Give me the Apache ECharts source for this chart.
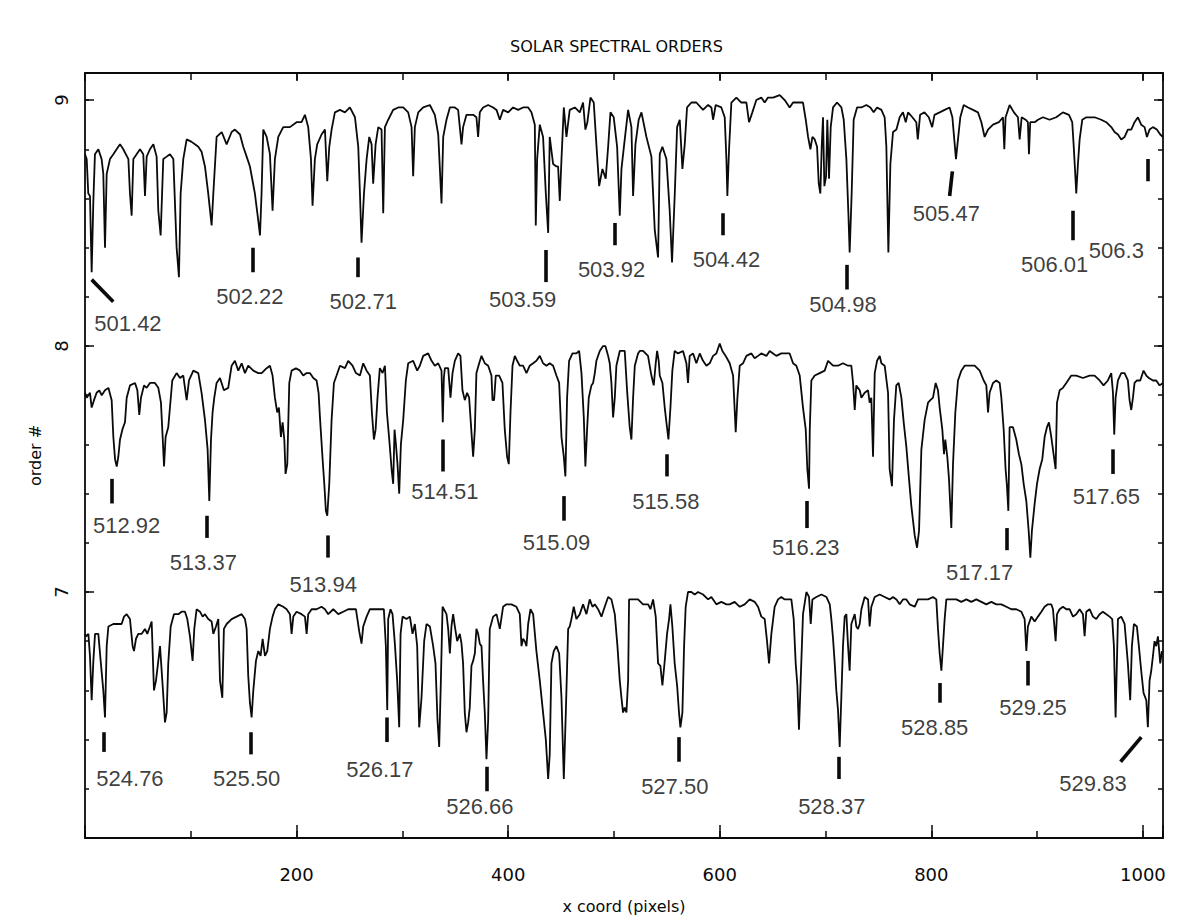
<!DOCTYPE html>
<html>
<head>
<meta charset="utf-8">
<script src="https://cdn.jsdelivr.net/npm/echarts/dist/echarts.min.js"></script>
<style>
html, body { margin: 0; padding: 0; background: #ffffff; }
#chart { width: 1179px; height: 921px; }
</style>
</head>
<body>
<div id="chart"></div>
<script>
// Spectral orders: [x pixel, order# + normalised flux offset]
const order9 = [
  [0, 8.78], [1.6, 8.76], [3.1, 8.62], [4.7, 8.61], [6.3, 8.30], [7.9, 8.59], [9.4, 8.78], [12.6, 8.80], [15.7, 8.76], [17.3, 8.70],
  [18.9, 8.40], [20.5, 8.70], [23.6, 8.76], [26.8, 8.78], [29.9, 8.80], [33.1, 8.82], [36.2, 8.80], [41, 8.76], [42.5, 8.62], [44.1, 8.53],
  [45.7, 8.76], [48.8, 8.78], [52, 8.80], [55.1, 8.78], [56.7, 8.61], [58.3, 8.77], [61.4, 8.80], [64.6, 8.82], [67.7, 8.77], [69.3, 8.55],
  [71.5, 8.45], [74, 8.76], [77.2, 8.77], [80.3, 8.78], [83.5, 8.76], [86.6, 8.40], [88.8, 8.28], [90.4, 8.62], [92.9, 8.76], [96.1, 8.84],
  [100.8, 8.83], [103.9, 8.82], [107.1, 8.81], [110.2, 8.79], [113.4, 8.73], [116.5, 8.62], [119.7, 8.49], [121.3, 8.62], [124.4, 8.85], [129.2, 8.87],
  [133.9, 8.82], [138.6, 8.87], [141.7, 8.88], [146.5, 8.86], [149.6, 8.81], [152.8, 8.77], [155.9, 8.73], [160.6, 8.62], [163.8, 8.51], [165.4, 8.45],
  [166.9, 8.62], [168.5, 8.88], [171.7, 8.85], [174.8, 8.78], [177.3, 8.55], [179.5, 8.76], [182.7, 8.85], [187.4, 8.89], [193.7, 8.89], [200, 8.91],
  [204.7, 8.91], [207.9, 8.94], [211, 8.89], [213.6, 8.76], [215.1, 8.57], [217.3, 8.76], [219.5, 8.82], [223.6, 8.86], [226.8, 8.88], [229, 8.67],
  [230.9, 8.81], [233.1, 8.88], [236.2, 8.95], [241, 8.96], [245.7, 8.95], [250.4, 8.97], [255.2, 8.93], [258.3, 8.81], [259.9, 8.62], [261.4, 8.42],
  [263.7, 8.62], [266.2, 8.76], [268.7, 8.85], [270.9, 8.82], [272.4, 8.66], [274.7, 8.82], [277.2, 8.89], [280.3, 8.88], [281.9, 8.54], [283.5, 8.89],
  [286.6, 8.92], [291.3, 8.96], [296.1, 8.97], [300.8, 8.97], [305.5, 8.95], [308.7, 8.89], [310.2, 8.69], [311.8, 8.89], [315, 8.95], [319.7, 8.97],
  [326, 8.98], [330.7, 8.94], [333.9, 8.86], [337, 8.58], [338.6, 8.85], [341.7, 8.92],
  [344.9, 8.97], [349.6, 8.97], [352.7, 8.96], [354.3, 8.89], [355.9, 8.82], [357.4, 8.89], [360.6, 8.94], [366.9, 8.94], [370.0, 8.93], [371.6, 8.85],
  [373.2, 8.95], [376.3, 8.97], [381.1, 8.98], [385.8, 8.97], [389, 8.96], [392.1, 8.92], [395.2, 8.96], [400, 8.95], [404.7, 8.97], [409.4, 8.96],
  [414.1, 8.97], [418.9, 8.97], [422, 8.95], [425.2, 8.90], [426.1, 8.49], [427.4, 8.76], [429.9, 8.90], [433, 8.85], [435.6, 8.62], [437.8, 8.46],
  [439.3, 8.85], [442.5, 8.74], [445.6, 8.73], [447.2, 8.73], [448.8, 8.59], [450.4, 8.76], [452.6, 8.97], [455.1, 8.85], [458.2, 8.96], [463, 8.97],
  [467.7, 8.95], [470.8, 8.99], [473, 8.88], [474.9, 8.91], [477.8, 9.01], [480.9, 8.99], [483.4, 8.82], [486, 8.65], [489.1, 8.72], [492.2, 8.68],
  [494.5, 8.81], [496.7, 8.95], [499.8, 8.93], [503, 8.81], [505.5, 8.53], [507.1, 8.72], [510.2, 8.84], [513.4, 8.96], [516.5, 8.89], [518.1, 8.61],
  [520.3, 8.82], [523.4, 8.92], [526, 8.95], [530.7, 8.85], [535.4, 8.77], [538.6, 8.47], [541.7, 8.36], [543.3, 8.78], [545.8, 8.81], [549.6, 8.76],
  [552.7, 8.55], [554.9, 8.34], [557.5, 8.62], [559.7, 8.89], [562.2, 8.92], [564.7, 8.72], [566.9, 8.82], [569.1, 8.97], [573.2, 8.99], [577.9, 8.99],
  [584.2, 8.96], [589, 8.98], [592.1, 8.97], [593.7, 8.92], [596.2, 8.98], [601.5, 8.97], [604.7, 8.93], [606.3, 8.76], [607.2, 8.61], [608.8, 8.80],
  [611, 8.99], [615.7, 9.01], [620.4, 8.99], [625.2, 8.99], [627.7, 8.91], [630.8, 8.95], [634.6, 9.00], [639.3, 9.01], [642.5, 8.99], [645.6, 9.01],
  [650.4, 9.01], [656.7, 9.02], [661.4, 9.00], [666.1, 8.97], [669.3, 8.99],
  [675.6, 8.99], [678.7, 8.99], [681.3, 8.92], [683.5, 8.85], [685.7, 8.80], [687.6, 8.85], [689.8, 8.84], [692, 8.81], [693.6, 8.66], [695.1, 8.62],
  [696.4, 8.81], [697.6, 8.93], [698.9, 8.65], [700.5, 8.69], [701.7, 8.92], [703.3, 8.68], [704.9, 8.89], [707.1, 8.97], [710.9, 8.99], [715, 8.97],
  [717.2, 8.92], [719.7, 8.76], [721.6, 8.54], [722.8, 8.38], [724.7, 8.62], [726.6, 8.92], [729.8, 8.97], [733.9, 8.97], [738.6, 8.98], [742.4, 8.97],
  [745.5, 8.95], [748.7, 8.97], [752.8, 8.96], [755.9, 8.93], [757.5, 8.81], [759.4, 8.38], [761.3, 8.74], [763.8, 8.87], [767, 8.88], [770.1, 8.93],
  [773.2, 8.95], [775.8, 8.91], [778, 8.95], [782.1, 8.93], [785.8, 8.91], [787.2, 8.84], [789.4, 8.94], [793.5, 8.95], [797.6, 8.93], [800.8, 8.89],
  [803, 8.94], [807.9, 8.95], [812.6, 8.96], [817.3, 8.97], [819.9, 8.93], [821.7, 8.84], [823.3, 8.76], [825.2, 8.84], [827.4, 8.93], [830.6, 8.98],
  [834.7, 8.97], [839.4, 8.96], [844.1, 8.95], [847.3, 8.91], [850.4, 8.85], [853.6, 8.88], [858.3, 8.90], [863.9, 8.91], [867.7, 8.93], [869, 8.80],
  [870.2, 8.93], [874, 8.98], [878.1, 8.95], [881.9, 8.93], [883.5, 8.84], [885.4, 8.93], [889.1, 8.92], [891.3, 8.91], [892.3, 8.78], [893.5, 8.91],
  [897.7, 8.91], [900.8, 8.92], [905.5, 8.93], [911.8, 8.92], [918.1, 8.93], [924.4, 8.95], [930.1, 8.94], [933.2, 8.91], [934.5, 8.82], [935.8, 8.72],
  [937, 8.62], [938.6, 8.74], [940.2, 8.84], [942.7, 8.92], [946.5, 8.93], [954.4, 8.93], [960.6, 8.92], [965.4, 8.91], [970.1, 8.89], [973.2, 8.87],
  [976.4, 8.86], [979.5, 8.84], [982.7, 8.85], [985.8, 8.88], [989, 8.88], [992.1, 8.91], [995.3, 8.93], [998.4, 8.90], [1001.6, 8.89], [1003.8, 8.85],
  [1006.3, 8.88], [1009.5, 8.89], [1013.2, 8.88], [1016.4, 8.86], [1019, 8.85]
];

const order8 = [
  [0, 7.81], [1.6, 7.79], [4.7, 7.81], [6.3, 7.75], [8.5, 7.78], [11, 7.81], [13.5, 7.82], [15.8, 7.80], [18.9, 7.82], [22.1, 7.83],
  [25.2, 7.78], [26.8, 7.63], [28.4, 7.54], [30, 7.51], [31.5, 7.55], [33.1, 7.62], [35.3, 7.66], [37.8, 7.69], [39.4, 7.79], [42.5, 7.84],
  [47.3, 7.85], [49.5, 7.82], [51.3, 7.72], [52.9, 7.79], [55.8, 7.84], [58.3, 7.83], [61.4, 7.85], [66.1, 7.85], [69.3, 7.83], [71.8, 7.77],
  [73.4, 7.63], [74.7, 7.51], [76.2, 7.63], [78.7, 7.67], [80.3, 7.75], [82.5, 7.86], [86.6, 7.89], [89.8, 7.87], [92.9, 7.88], [96.1, 7.78],
  [98.3, 7.86], [102.4, 7.90], [107.1, 7.89], [110.2, 7.81], [113.4, 7.70], [115.9, 7.58], [117.5, 7.37], [119.1, 7.62], [120.6, 7.73], [122.2, 7.79],
  [124.4, 7.85], [127.6, 7.87], [131.3, 7.82], [135.4, 7.83], [138.6, 7.92], [141.7, 7.94], [144.9, 7.90], [148.1, 7.93], [151.2, 7.89], [154.3, 7.92],
  [159.1, 7.90], [163.8, 7.89], [167, 7.89], [171.7, 7.91], [174.8, 7.92], [177.3, 7.88], [179.5, 7.79], [181.7, 7.73], [183.3, 7.75], [185.2, 7.63],
  [186.8, 7.69], [188.4, 7.62], [189.6, 7.48], [191.2, 7.52], [193.1, 7.85], [195.3, 7.90], [199.4, 7.91], [203.2, 7.90], [206.3, 7.88], [209.5, 7.89],
  [212.6, 7.89], [215.8, 7.87], [218.9, 7.86], [220.8, 7.81], [222.1, 7.71], [224.6, 7.54], [226.2, 7.44], [227.7, 7.33], [229, 7.31], [230.9, 7.44],
  [233.1, 7.70], [235.3, 7.85], [237.8, 7.88], [241, 7.92], [245.7, 7.91], [248.8, 7.94], [252.9, 7.92], [256.1, 7.89], [259.9, 7.88], [263, 7.93],
  [266.2, 7.90], [269.3, 7.88], [271.2, 7.73], [273.1, 7.62], [274.7, 7.66], [276.5, 7.79], [278.7, 7.91], [281.3, 7.89], [283.5, 7.92], [285.4, 7.73],
  [287.6, 7.62], [289.8, 7.50], [291.3, 7.44], [292.6, 7.66], [293.9, 7.60], [295.4, 7.52], [297, 7.40], [298.6, 7.60], [300.8, 7.70], [303.3, 7.86],
  [305.5, 7.93], [310.2, 7.94], [314, 7.90], [316.5, 7.92], [319.7, 7.96], [324.4, 7.97], [327.6, 7.94], [330.7, 7.92], [333.9, 7.93], [337, 7.90],
  [338.2, 7.69], [339.2, 7.87], [340.2, 7.91], [343.3, 7.91],
  [345.5, 7.79], [347.4, 7.89], [349.6, 7.94], [352.7, 7.97], [354.9, 7.96], [356.8, 7.82], [359, 7.78], [361.2, 7.81], [363.1, 7.79], [365.3, 7.65],
  [366.9, 7.55], [368.5, 7.66], [370, 7.89], [372.6, 7.93], [374.8, 7.96], [377.9, 7.93], [381.1, 7.92], [384.2, 7.88], [385.2, 7.78], [386.7, 7.78],
  [388.3, 7.88], [391.5, 7.88], [394.6, 7.85], [396.8, 7.66], [399, 7.55], [400.6, 7.52], [402.2, 7.73], [404.1, 7.92], [406.3, 7.96], [408.5, 7.94],
  [411, 7.92], [414.1, 7.92], [417.3, 7.89], [420.4, 7.92], [423.6, 7.93], [426.7, 7.94], [429.9, 7.96], [433, 7.93], [436.2, 7.92], [439.3, 7.93],
  [442.5, 7.92], [445.6, 7.88], [448.2, 7.85], [450.4, 7.63], [452.6, 7.55], [454.1, 7.47], [455.7, 7.79], [457.6, 7.94], [460.8, 7.97], [464.5, 7.97],
  [467.1, 7.98], [469.3, 7.89], [471.5, 7.71], [473.0, 7.51], [474.6, 7.66], [476.2, 7.79], [478.7, 7.84], [480.3, 7.85], [481.9, 7.89], [483.4, 7.94],
  [486.6, 7.98], [489.7, 8.00], [491.9, 8.00], [494.5, 7.96], [496, 7.93], [497.6, 7.85], [499.2, 7.71], [500.8, 7.79], [502.3, 7.92], [505.5, 7.98],
  [510.2, 7.98], [512.4, 7.82], [514.9, 7.67], [516.5, 7.62], [518.1, 7.79], [519.7, 7.92], [522.8, 7.97], [524.4, 7.98], [527.5, 7.98], [532.2, 7.96],
  [535.4, 7.88], [537.6, 7.84], [539.5, 7.93], [540.8, 7.98], [542.3, 7.94], [543.3, 7.88], [545.8, 7.85], [548, 7.75], [549.6, 7.69], [551.5, 7.62],
  [553.4, 7.75], [555.2, 7.90], [557.4, 7.98], [560.6, 7.97], [565.3, 7.98], [568.5, 7.93], [570, 7.85], [571.6, 7.96], [574.8, 7.97], [577.9, 7.93],
  [581.1, 7.97], [584.2, 7.94], [587.4, 7.92], [590.5, 7.93], [593.7, 7.96], [596.8, 7.97], [600, 8.01], [602.5, 7.98], [605.6, 7.96], [609.4, 7.93],
  [612.6, 7.88], [615.1, 7.65], [616.7, 7.79], [618.9, 7.92], [622, 7.93], [625.2, 7.96], [629.9, 7.97], [633, 7.95], [636.2, 7.96], [639.3, 7.97],
  [644.1, 7.96], [647.2, 7.98], [650.4, 7.97], [653.5, 7.96], [658.2, 7.97], [663, 7.97], [666.1, 7.97], [669.3, 7.93], [672.4, 7.92], [675.6, 7.88],
  [678.7, 7.75], [681.3, 7.66], [682.8, 7.50], [684.4, 7.42],
  [685.1, 7.66], [686.6, 7.86], [689.8, 7.88], [694.5, 7.89], [699.2, 7.90], [702.4, 7.94], [707.1, 7.92], [711.8, 7.92], [716.5, 7.93], [721.3, 7.92],
  [724.4, 7.92], [726, 7.85], [727.6, 7.74], [729.1, 7.84], [732.3, 7.82], [733.9, 7.79], [737, 7.81], [740.2, 7.82], [741.7, 7.77], [743.3, 7.79],
  [744.9, 7.55], [746.5, 7.89], [748.7, 7.94], [751.2, 7.96], [752.8, 7.93], [755.9, 7.92], [759.1, 7.81], [760.6, 7.50], [762.8, 7.43], [764.7, 7.70],
  [766.9, 7.84], [769.1, 7.85], [771.7, 7.79], [773.9, 7.69], [776.4, 7.59], [778.9, 7.46], [781.1, 7.35], [784.3, 7.23], [786.5, 7.18], [788.4, 7.25],
  [790.6, 7.58], [793.7, 7.70], [796.9, 7.77], [799.1, 7.78], [801.6, 7.79], [804.1, 7.85], [806.3, 7.82], [807.9, 7.75], [810.4, 7.66], [812, 7.56],
  [813.2, 7.62], [815.1, 7.55], [816.7, 7.46], [818.9, 7.26], [820.5, 7.52], [822.7, 7.73], [825.2, 7.86], [828.4, 7.90], [831.5, 7.92], [836.2, 7.92],
  [841, 7.92], [845.7, 7.90], [849.5, 7.86], [852, 7.84], [853.6, 7.73], [855.1, 7.81], [858.3, 7.85], [861.4, 7.86], [864.6, 7.85], [866.2, 7.79],
  [868.4, 7.66], [870.2, 7.50], [871.5, 7.43], [872.8, 7.33], [874, 7.67], [877.2, 7.67], [880.3, 7.62], [882.8, 7.56], [885.1, 7.52], [887.3, 7.44],
  [889.8, 7.37], [892, 7.25], [893.6, 7.14], [895.1, 7.25], [897.7, 7.36], [899.9, 7.44], [902.4, 7.50], [904.9, 7.54], [907.1, 7.63], [909.3, 7.67],
  [911.2, 7.69], [913.4, 7.63], [915.6, 7.56], [917.5, 7.50], [918.8, 7.77], [921.3, 7.82], [924.4, 7.83], [927.6, 7.85], [932.3, 7.88], [937, 7.88],
  [943.3, 7.87], [949.6, 7.88], [954.3, 7.88], [959.1, 7.86], [962.8, 7.84], [966.9, 7.86], [970.1, 7.89], [971.7, 7.81], [972.9, 7.64], [974.2, 7.79],
  [976.4, 7.86], [979.5, 7.89], [982.7, 7.89], [985.8, 7.86], [987.4, 7.78], [989, 7.74], [990.6, 7.79], [992.1, 7.85], [994.4, 7.86], [997.5, 7.86],
  [1000.6, 7.90], [1003.2, 7.88], [1005.7, 7.87], [1009.5, 7.86], [1012.6, 7.86], [1015.8, 7.84], [1019, 7.85]
];

const order7 = [
  [0, 6.83], [1, 6.82], [3.2, 6.83], [4.7, 6.74], [6.3, 6.56], [7.9, 6.72], [9.5, 6.83], [12.6, 6.83], [14.8, 6.72], [17.3, 6.60],
  [18.9, 6.49], [20.5, 6.78], [22.1, 6.86], [26.8, 6.87], [31.5, 6.87], [34.6, 6.87], [36.9, 6.90], [39.4, 6.91], [42.5, 6.89], [45, 6.78],
  [46.3, 6.76], [48.2, 6.81], [50.4, 6.83], [53.6, 6.83], [56.7, 6.85], [58.9, 6.83], [61.4, 6.86], [63, 6.88], [65.2, 6.60], [67.1, 6.64],
  [69.3, 6.72], [70.9, 6.78], [73.4, 6.62], [75.6, 6.47], [77.2, 6.51], [78.7, 6.71], [81, 6.86], [84.1, 6.91], [88.2, 6.91], [91.3, 6.92],
  [94.5, 6.92], [96.7, 6.89], [99.2, 6.82], [101.7, 6.72], [103.3, 6.85], [105.5, 6.93], [108.7, 6.92], [111.2, 6.90], [113.4, 6.91], [116.5, 6.89],
  [119.7, 6.88], [121.3, 6.83], [123.8, 6.86], [126, 6.89], [127.6, 6.64], [129.8, 6.57], [131.3, 6.85], [133.9, 6.87], [138.6, 6.89], [143.3, 6.90],
  [148.1, 6.91], [151.2, 6.89], [152.8, 6.85], [154.3, 6.66], [155.9, 6.55], [157.5, 6.49], [159.1, 6.60], [161.6, 6.72], [163.8, 6.76], [166, 6.74],
  [167.9, 6.81], [170.1, 6.74], [172.3, 6.76], [174.8, 6.85], [177.3, 6.90], [179.5, 6.93], [182.7, 6.95], [187.4, 6.94], [190.6, 6.93], [193.7, 6.91],
  [195.3, 6.83], [196.9, 6.90], [200, 6.92], [204.7, 6.91], [207.9, 6.90], [209.5, 6.83], [211, 6.91], [214.2, 6.93], [218.9, 6.93], [223.6, 6.94],
  [226.8, 6.93], [229.9, 6.91], [234.7, 6.93], [239.4, 6.91], [244.1, 6.92], [248.8, 6.93], [252.9, 6.93], [256.1, 6.93], [259.2, 6.84], [261.4, 6.79],
  [263, 6.86], [266.2, 6.90], [269.3, 6.93], [274, 6.93], [278.7, 6.93], [282.5, 6.93], [284.4, 6.78], [285.7, 6.52], [286.6, 6.89], [288.8, 6.93],
  [290.7, 6.91], [292.9, 6.79], [295.1, 6.64], [297, 6.45], [298.3, 6.83], [300.2, 6.90], [303.9, 6.89], [307.1, 6.90], [309.6, 6.83], [311.8, 6.87],
  [314, 6.78], [315.9, 6.45], [318.1, 6.57], [320.6, 6.80], [322.8, 6.87], [326, 6.86], [329.1, 6.78], [331.3, 6.71], [333.2, 6.48], [334.8, 6.37],
  [336.4, 6.64], [338, 6.94],
  [341.7, 6.91], [343.3, 6.85], [344.9, 6.75], [346.4, 6.86], [348, 6.91], [349.6, 6.86], [351.8, 6.80], [354.3, 6.83], [355.9, 6.79], [357.4, 6.71],
  [359, 6.51], [360.6, 6.43], [362.2, 6.47], [363.7, 6.53], [365.3, 6.70], [366.9, 6.72], [368.5, 6.75], [370, 6.85], [371.6, 6.83], [373.2, 6.79],
  [374.8, 6.78], [376.3, 6.64], [377.9, 6.51], [379.5, 6.32], [381.1, 6.48], [382.6, 6.85], [385.8, 6.90], [389, 6.91], [392.1, 6.85], [395.2, 6.94],
  [398.4, 6.95], [403.1, 6.95], [407.8, 6.94], [411, 6.91], [412.6, 6.78], [414.1, 6.81], [415.7, 6.80], [417.3, 6.78], [418.9, 6.87], [421.1, 6.93],
  [423.6, 6.91], [426.7, 6.76], [429.9, 6.64], [433, 6.51], [435.6, 6.40], [437.8, 6.24], [439.3, 6.34], [440.9, 6.71], [443.1, 6.76], [445.6, 6.78],
  [448.2, 6.75], [450.4, 6.57], [452.6, 6.24], [454.5, 6.51], [456.7, 6.85], [458.2, 6.86], [459.8, 6.89], [462, 6.94], [464.5, 6.89], [467.7, 6.91],
  [470.8, 6.95], [474, 6.91], [477.1, 6.97], [479.7, 6.94], [481.9, 6.95], [485, 6.93], [488.2, 6.90], [491.3, 6.94], [494.5, 6.98], [497.6, 6.97],
  [500.8, 6.91], [503.3, 6.78], [505.5, 6.64], [507.1, 6.57], [508.6, 6.51], [510.2, 6.53], [511.8, 6.51], [513.4, 6.64], [514.3, 6.97], [518.1, 6.97],
  [522.8, 6.97], [527.5, 6.95], [532.3, 6.95], [534.5, 6.93], [537, 6.97], [539.5, 6.90], [541.7, 6.71], [543.9, 6.70], [545.8, 6.62], [548, 6.72],
  [550.2, 6.83], [552.1, 6.89], [553.4, 6.95], [555.2, 6.86], [557.4, 6.71], [559.7, 6.62], [561.5, 6.51], [562.8, 6.45], [564.7, 6.51], [566.3, 6.78],
  [567.8, 6.94], [570, 7.00], [573.2, 7.00], [576.3, 6.99], [579.5, 7.00], [584.2, 6.99], [589, 6.97], [592.1, 6.98], [596.8, 6.95], [601.5, 6.96],
  [606.3, 6.95], [609.4, 6.95], [614.1, 6.96], [618.9, 6.94], [623.6, 6.95], [628.3, 6.97], [633, 6.96], [636.2, 6.94], [639.3, 6.90], [642.5, 6.89],
  [644.7, 6.80], [646.6, 6.71], [648.8, 6.83], [651.9, 6.94], [655.1, 6.97], [658.2, 6.98], [661.4, 6.97], [664.5, 6.97], [667.7, 6.97], [669.9, 6.89],
  [671.8, 6.71], [673.4, 6.62], [674.9, 6.44], [676.5, 6.64],
  [678.7, 6.91], [681.9, 7.00], [684.4, 6.98], [686, 6.87], [687.6, 6.97], [691.3, 6.98], [696.1, 6.99], [700.8, 6.98], [704, 6.95], [705.5, 6.89],
  [707.1, 6.81], [708.7, 6.71], [710.2, 6.60], [711.8, 6.52], [713.4, 6.37], [715, 6.58], [716.5, 6.78], [718.1, 6.90], [719.7, 6.91], [721.3, 6.78],
  [722.8, 6.68], [724.4, 6.87], [726, 6.89], [727.6, 6.91], [729.1, 6.86], [730.7, 6.85], [732.3, 6.87], [733.9, 6.93], [737, 6.98], [740.2, 6.97],
  [741.7, 6.86], [743.3, 6.94], [746.5, 6.98], [751.2, 6.99], [755.9, 6.98], [760.6, 6.97], [763.8, 6.98], [767, 6.97], [770.1, 6.95], [773.2, 6.97],
  [776.4, 6.97], [779.5, 6.95], [784.3, 6.94], [787.4, 6.97], [792.1, 6.97], [796.9, 6.97], [801.6, 6.98], [804.7, 6.97], [806.3, 6.85], [807.9, 6.75],
  [809.5, 6.68], [811, 6.78], [812.6, 6.89], [814.2, 6.97], [818.9, 6.97], [823.6, 6.97], [828.4, 6.96], [833.1, 6.97], [837.8, 6.96], [842.5, 6.97],
  [847.3, 6.96], [852, 6.95], [856.7, 6.96], [861.4, 6.95], [866.2, 6.95], [870.9, 6.94], [875.6, 6.93], [880.3, 6.93], [885.1, 6.92], [888.2, 6.89],
  [889.8, 6.76], [891.3, 6.86], [894.5, 6.90], [897.7, 6.88], [900.8, 6.90], [904, 6.92], [907.1, 6.94], [910.2, 6.95], [913.4, 6.95], [915, 6.93],
  [917.5, 6.80], [918.8, 6.91], [921.3, 6.93], [924.4, 6.94], [927.6, 6.93], [930.7, 6.93], [933.9, 6.90], [937, 6.91], [940.2, 6.93], [943.3, 6.91],
  [944.9, 6.82], [946.5, 6.92], [949.6, 6.93], [952.8, 6.90], [955.9, 6.89], [959.1, 6.91], [962.2, 6.92], [965.4, 6.91], [968.5, 6.90], [971, 6.89],
  [972.6, 6.78], [974.2, 6.49], [975.4, 6.71], [976.4, 6.89], [979.5, 6.90], [982.7, 6.87], [985.8, 6.71], [988, 6.56], [989.6, 6.78], [991.5, 6.87],
  [994.3, 6.86], [996.2, 6.78], [998.4, 6.68], [1000.6, 6.59], [1003.2, 6.56], [1004.7, 6.45], [1006.3, 6.64], [1007.9, 6.68], [1009.5, 6.74], [1011, 6.80],
  [1012.6, 6.78], [1014.2, 6.82], [1016.4, 6.71], [1018, 6.76]
];

// Identified lines (wavelength, nm)
const lineNames = [
  '501.42', '502.22', '502.71', '503.59', '503.92', '504.42', '504.98', '505.47', '506.01', '506.3',
  '512.92', '513.37', '513.94', '514.51', '515.09', '515.58', '516.23', '517.17', '517.65',
  '524.76', '525.50', '526.17', '526.66', '527.50', '528.37', '528.85', '529.25', '529.83'
];
// Marker strokes under each line: [x top, y top, x bottom, y bottom]
const lineMarkers = [
  [6.3, 8.27, 26.7, 8.18], [159.0, 8.40, 159.0, 8.30], [258.2, 8.36, 258.2, 8.28], [435.6, 8.39, 435.6, 8.26], [500.8, 8.50, 500.8, 8.41],
  [602.6, 8.54, 602.6, 8.45], [719.7, 8.33, 719.7, 8.23], [819.9, 8.71, 817.3, 8.61], [933.3, 8.55, 933.3, 8.43], [1004.2, 8.76, 1004.2, 8.67],
  [25.2, 7.46, 25.2, 7.36], [115.0, 7.31, 115.0, 7.22], [229.0, 7.23, 229.0, 7.14], [338.0, 7.62, 338.0, 7.49], [452.6, 7.39, 452.6, 7.29],
  [549.7, 7.56, 549.7, 7.47], [682.5, 7.37, 682.5, 7.26], [871.5, 7.26, 871.5, 7.17], [971.7, 7.58, 971.7, 7.48],
  [18.0, 6.43, 18.0, 6.35], [156.9, 6.43, 156.9, 6.34], [285.6, 6.49, 285.6, 6.39], [379.6, 6.29, 379.6, 6.19], [561.6, 6.41, 561.6, 6.31],
  [712.7, 6.33, 712.7, 6.24], [807.9, 6.63, 807.9, 6.55], [891.3, 6.72, 891.3, 6.62], [998.5, 6.41, 978.9, 6.31]
];
// Text anchor (centre) of each wavelength tag
const lineTags = [
  [40.6, 8.09], [155.9, 8.20], [263.0, 8.18], [413.6, 8.19], [497.7, 8.31], [606.4, 8.35], [716.5, 8.17], [814.2, 8.54], [916.6, 8.33], [974.9, 8.39],
  [39.4, 7.27], [111.8, 7.12], [225.2, 7.03], [340.2, 7.41], [445.7, 7.20], [549.0, 7.37], [681.3, 7.18], [845.7, 7.08], [965.4, 7.39],
  [42.5, 6.24], [152.8, 6.24], [278.7, 6.28], [373.2, 6.13], [557.5, 6.21], [705.9, 6.13], [803.2, 6.45], [896.1, 6.53], [952.8, 6.22]
];

const X_MIN = 0, X_MAX = 1019, Y_MIN = 6, Y_MAX = 9.11;
const INK = '#0a0a0a';
const axisFont = 'DejaVu Sans';

const chart = echarts.init(document.getElementById('chart'), null, { renderer: 'svg' });

function xAxisDef(position, interval, tickLen, withLine, withLabels) {
  return {
    type: 'value', position: position, min: X_MIN, max: X_MAX, interval: interval,
    axisLine: { show: withLine, onZero: false, lineStyle: { color: INK, width: 1.8 } },
    axisTick: { show: true, inside: true, length: tickLen, lineStyle: { color: INK, width: 1.5 } },
    axisLabel: withLabels ? {
      show: true, margin: 27, color: INK, fontSize: 18, fontFamily: axisFont,
      formatter: v => (v > 0 && v % 200 === 0) ? String(v) : ''
    } : { show: false },
    splitLine: { show: false }
  };
}
function yAxisDef(position, interval, tickLen, withLine, withLabels) {
  return {
    type: 'value', position: position, min: Y_MIN, max: Y_MAX, interval: interval,
    axisLine: { show: withLine, onZero: false, lineStyle: { color: INK, width: 1.8 } },
    axisTick: { show: true, inside: true, length: tickLen, lineStyle: { color: INK, width: 1.5 } },
    axisLabel: withLabels ? {
      show: true, margin: 15, rotate: 90, color: INK, fontSize: 18, fontFamily: axisFont,
      formatter: v => (v > 6.5 && Math.abs(v - Math.round(v)) < 1e-6) ? String(Math.round(v)) : ''
    } : { show: false },
    splitLine: { show: false }
  };
}

const xMain = xAxisDef('bottom', 200, 13, true, true);
xMain.name = 'x coord (pixels)';
xMain.nameLocation = 'middle';
xMain.nameGap = 60;
xMain.nameTextStyle = { color: INK, fontSize: 16, fontFamily: axisFont };

const yMain = yAxisDef('left', 1, 9, true, true);
yMain.name = 'order #';
yMain.nameLocation = 'middle';
yMain.nameGap = 42;
yMain.nameTextStyle = { color: INK, fontSize: 16, fontFamily: axisFont };

const spectrumSeries = [order9, order8, order7].map(d => ({
  type: 'line', xAxisIndex: 0, yAxisIndex: 0, data: d,
  showSymbol: false, symbol: 'none', smooth: false, z: 3,
  lineStyle: { color: INK, width: 1.8 }
}));

chart.setOption({
  animation: false,
  backgroundColor: '#ffffff',
  graphic: [{
    type: 'text', left: 510, top: 38,
    style: { text: 'SOLAR SPECTRAL ORDERS', fill: INK, font: '16px "DejaVu Sans"' }
  }],
  grid: { left: 85, right: 16, top: 73, bottom: 83, containLabel: false },
  xAxis: [
    xMain,
    xAxisDef('bottom', 100, 7, false, false),
    xAxisDef('top', 200, 8, true, false),
    xAxisDef('top', 100, 7, false, false)
  ],
  yAxis: [
    yMain,
    yAxisDef('left', 0.2, 4, false, false),
    yAxisDef('right', 1, 9, true, false),
    yAxisDef('right', 0.2, 5, false, false)
  ],
  series: spectrumSeries.concat([
    {
      type: 'lines', coordinateSystem: 'cartesian2d', xAxisIndex: 0, yAxisIndex: 0, z: 4,
      data: lineMarkers.map(m => ({ coords: [[m[0], m[1]], [m[2], m[3]]] })),
      lineStyle: { color: INK, width: 3.6, opacity: 1 }
    },
    {
      type: 'scatter', xAxisIndex: 0, yAxisIndex: 0, z: 5, symbolSize: 1,
      itemStyle: { color: 'rgba(0,0,0,0)' },
      data: lineTags.map((t, i) => ({ value: t, name: lineNames[i] })),
      label: {
        show: true, position: 'inside', formatter: '{b}',
        color: INK, fontSize: 22, fontFamily: '"Liberation Sans", Arial, sans-serif'
      }
    }
  ])
});
</script>
</body>
</html>
